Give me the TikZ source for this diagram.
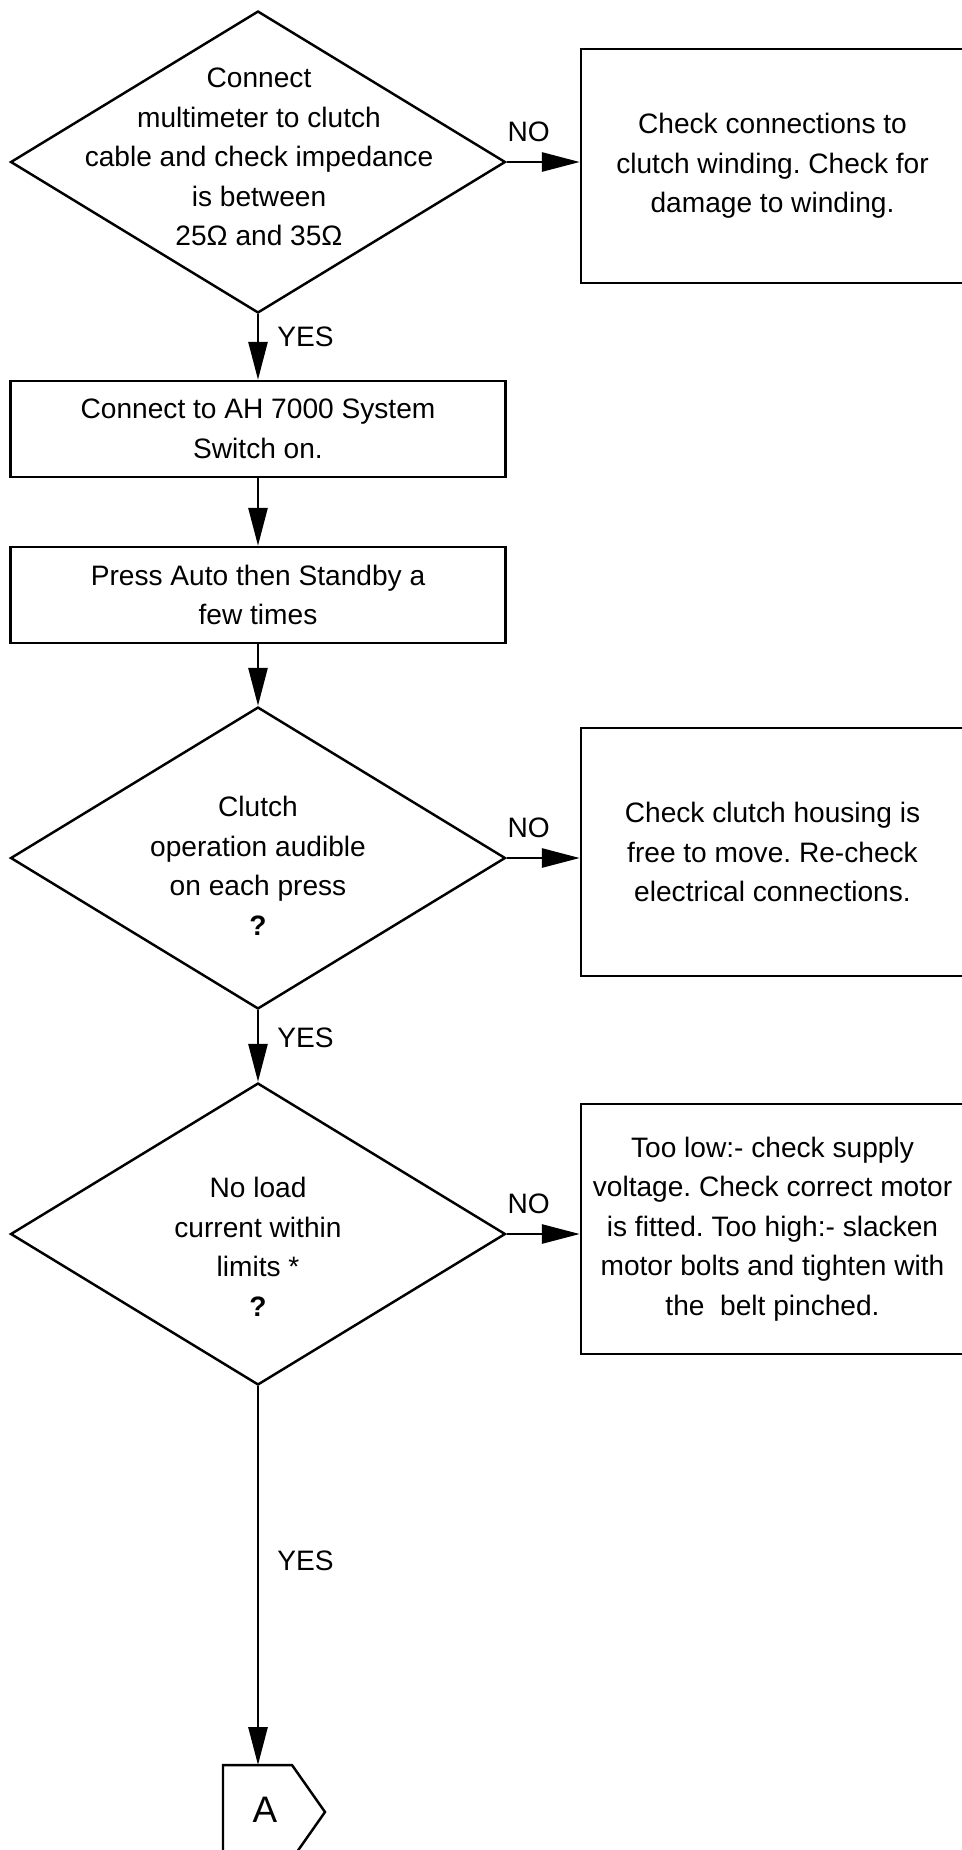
\documentclass[tikz,border=0pt]{standalone}
\usepackage{fontspec}
\setmainfont{Liberation Sans}
\usetikzlibrary{arrows.meta,shapes.geometric}
\frenchspacing

\begin{document}
\begin{tikzpicture}[x=0.02cm, y=-0.02cm,
  font=\fontsize{16}{22.5}\selectfont,
  dec/.style={draw, line width=1.4pt, shape=diamond, minimum width=9.9cm, minimum height=6.04cm, inner sep=0pt},
  act/.style={draw, line width=1.4pt, minimum width=9.9cm, minimum height=1.92cm, align=center, inner sep=0pt},
  fix/.style={draw, line width=1.4pt, minimum width=7.66cm, align=center, inner sep=0pt},
  dtxt/.style={align=center, inner sep=0pt},
  lbl/.style={inner sep=0pt},
  flow/.style={line width=1.6pt, -{Triangle[length=0.76cm, width=0.38cm]}}]
\useasboundingbox (0,0) rectangle (962,1850);
\clip (0,0) rectangle (962,1850);
% main column
\node[dec] (q1) at (258,162) {};
\node[dtxt] (q1t) at (259,157) {Connect\\multimeter to clutch\\cable and check impedance\\is between\\25Ω and 35Ω};
\node[act] (s1) at (258,429) {Connect to AH 7000 System\\Switch on.};
\node[act] (s2) at (258,595) {Press Auto then Standby a\\few times};
\node[dec] (q2) at (258,858) {};
\node[dtxt] (q2t) at (258,866) {Clutch\\operation audible\\on each press\\\textbf{?}};
\node[dec] (q3) at (258,1234) {};
\node[dtxt] (q3t) at (258,1247) {No load\\current within\\limits *\\\textbf{?}};
% remedies on the right
\node[fix, minimum height=4.68cm] (b1) at (772.5,166) {Check connections to\\clutch winding. Check for\\damage to winding.};
\node[fix, minimum height=4.96cm] (b2) at (772.5,852) {Check clutch housing is\\free to move. Re-check\\electrical connections.};
\node[fix, minimum height=5cm] (b3) at (772.5,1229) {Too low:- check supply\\voltage. Check correct motor\\is fitted. Too high:- slacken\\motor bolts and tighten with\\the\ \ belt pinched.};
% off-page connector
\coordinate (ain) at (258,1765);
\draw[line width=1.4pt] (223,1859) -- (223,1765) -- (292,1765) -- (325,1812) -- (292,1859);
\node[font=\fontsize{21}{25}\selectfont] (pgA) at (265,1810) {A};
% connectors
\foreach \a/\b in {q1/b1, q2/b2, q3/b3}{
  \draw[flow] (\a.east) -- node[lbl, pos=0.3, above=0.38cm] {NO} (\a.east -| \b.west);}
\foreach \a/\b/\p in {q1/s1/0.34, q2/q3/0.39}{
  \draw[flow] (\a.south) -- node[lbl, pos=\p, right=0.36cm] {YES} (\b.north);}
\draw[flow] (q3.south) -- node[lbl, pos=0.46, right=0.36cm] {YES} (ain);
\draw[flow] (s1.south) -- (s2.north);
\draw[flow] (s2.south) -- (q2.north);
\end{tikzpicture}
\end{document}
